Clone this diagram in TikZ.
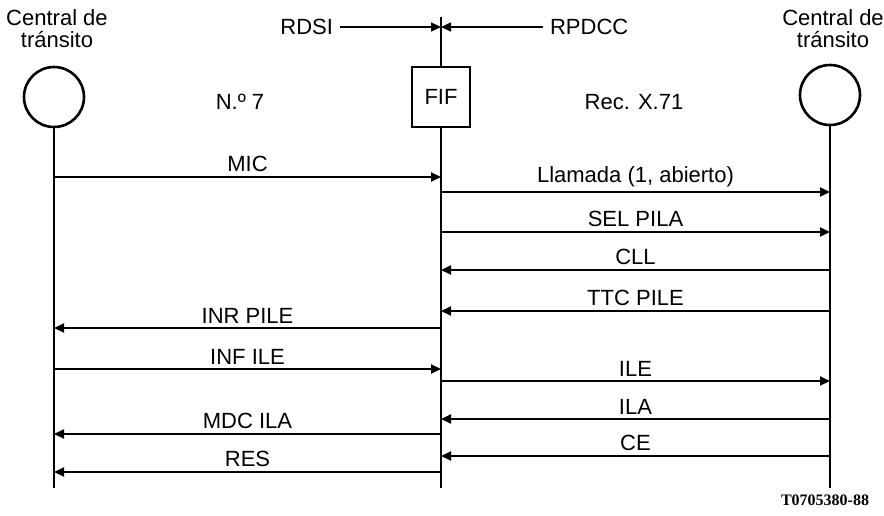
\documentclass[tikz,border=0pt]{standalone}
\usepackage{fontspec}
\setmainfont{Liberation Sans}
\newfontfamily\codefont{Liberation Serif}
\usepackage{tikz}
\usetikzlibrary{arrows.meta,positioning}

\begin{document}
\begin{tikzpicture}[
  x=0.5pt, y=-0.5pt,
  font=\fontsize{11}{11}\selectfont,
  exch/.style={draw, circle, line width=1.3pt, minimum size=30pt, inner sep=0pt},
  fifbox/.style={draw, line width=1.3pt, minimum width=29pt, minimum height=30pt, inner sep=0pt},
  life/.style={line width=0.9pt},
  msg/.style={-{Triangle[length=5pt,width=4.5pt]}, line width=1pt},
  lbl/.style={above=1pt, inner sep=1pt}
]
\useasboundingbox (0,0) rectangle (884,515);

% cabecera
\node[align=center] (tl) at (57,29) {Central de\\tránsito};
\node[align=center] (tr) at (833,29) {Central de\\tránsito};
\node[exch] (cl) at (54,97) {};
\node[exch] (cr) at (830,95) {};
\node[fifbox] (fif) at (441,97) {FIF};
\node (n7) at (240,102) {N.º 7};
\node (x71) at (634,102) {Rec. X.71};

% frontera de red
\node[anchor=east] (rdsi) at (340,27) {RDSI};
\node[anchor=west] (rpdcc) at (543,27) {RPDCC};
\coordinate (top) at (441,17);
\coordinate (bnd) at (441,27);
\draw[life] (top) -- (fif.north);
\draw[msg, line width=0.7pt] (rdsi) -- (bnd);
\draw[msg, line width=0.7pt] (rpdcc) -- (bnd);

% lineas de vida
\coordinate (endl) at (54,488);
\coordinate (endm) at (441,488);
\coordinate (endr) at (830,488);
\draw[life] (cl) -- (endl);
\draw[life] (fif) -- (endm);
\draw[life] (cr) -- (endr);

% puntos de cada mensaje
\foreach \n/\y in {a/177,b/192,c/232,d/270,e/311,f/328,g/369,h/381,i/419,j/434,k/456,l/472} {
  \coordinate (L\n) at (54,\y);
  \coordinate (M\n) at (441,\y);
  \coordinate (R\n) at (830,\y);
}

% mensajes
\draw[msg] (La) -- node[lbl]{MIC} (Ma);
\draw[msg] (Mb) -- node[lbl]{Llamada (1, abierto)} (Rb);
\draw[msg] (Mc) -- node[lbl]{SEL PILA} (Rc);
\draw[msg] (Rd) -- node[lbl]{CLL} (Md);
\draw[msg] (Re) -- node[lbl]{TTC PILE} (Me);
\draw[msg] (Mf) -- node[lbl]{INR PILE} (Lf);
\draw[msg] (Lg) -- node[lbl]{INF ILE} (Mg);
\draw[msg] (Mh) -- node[lbl]{ILE} (Rh);
\draw[msg] (Ri) -- node[lbl]{ILA} (Mi);
\draw[msg] (Mj) -- node[lbl]{MDC ILA} (Lj);
\draw[msg] (Rk) -- node[lbl]{CE} (Mk);
\draw[msg] (Ml) -- node[lbl]{RES} (Ll);

\node[font=\codefont\bfseries\fontsize{8}{8}\selectfont] (ref) at (825,500) {T0705380-88};
\end{tikzpicture}
\end{document}
